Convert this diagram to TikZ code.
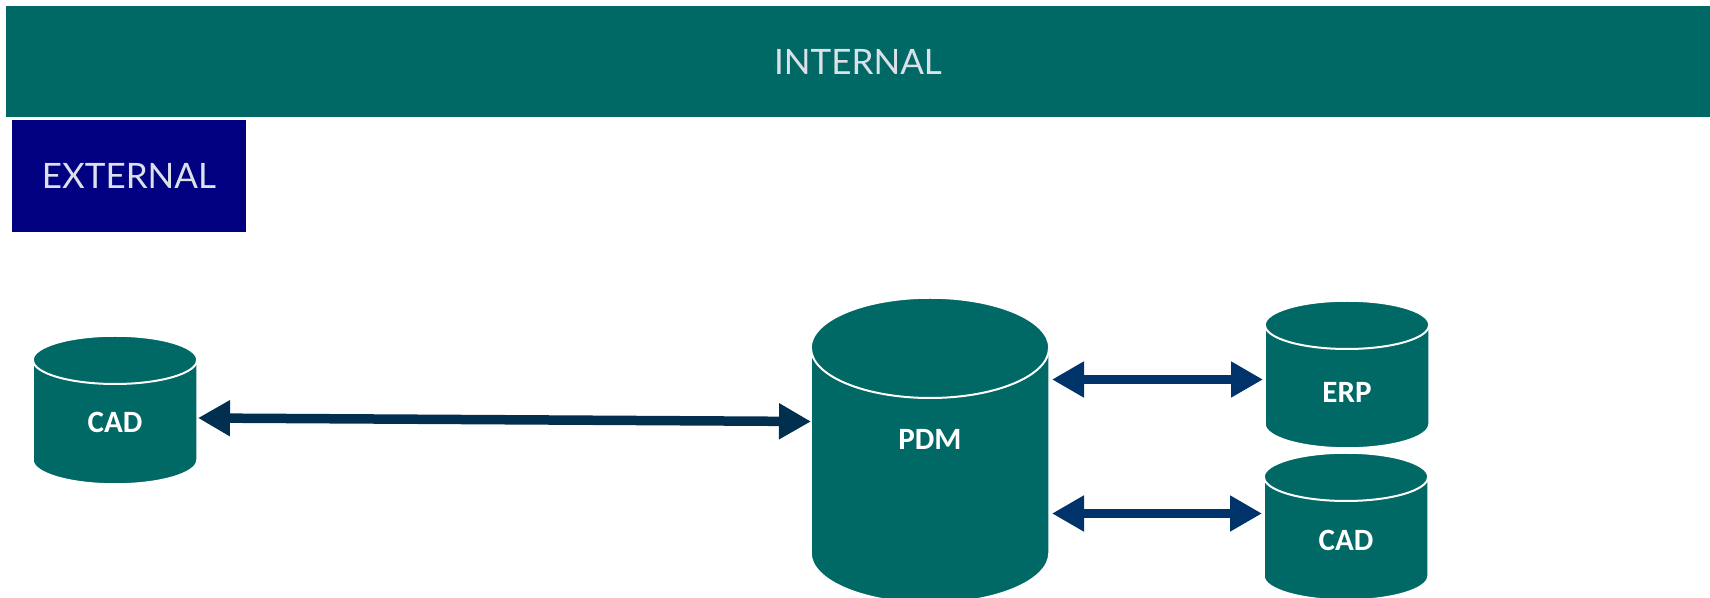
\documentclass[tikz,border=0pt]{standalone}
\usepackage{fontspec}
\newfontfamily\bandfont{Lato}
\newfontfamily\dbfont{Carlito}
\usetikzlibrary{calc}
\usetikzlibrary{arrows.meta}
\definecolor{teal}{RGB}{0,104,101}
\definecolor{navy}{RGB}{0,0,128}
\definecolor{pale}{RGB}{220,224,232}
\definecolor{linkdark}{RGB}{0,47,79}
\definecolor{linkblue}{RGB}{0,51,106}
\tikzset{x=0.5pt, y=0.5pt,
band/.style={ % Sets the properties for the two zone bars
fill, inner sep=0pt, text=pale,
font=\bandfont\fontsize{17.5}{20}\selectfont},
db/.style={fill=teal, draw=white, line width=0.75pt},
dbrim/.style={draw=white, line width=1pt},
dbbox/.style={inner sep=0pt, outer sep=0pt}, % body of a store, no ink
dblabel/.style={text=white, font=\dbfont\bfseries\fontsize{15.5}{18}\selectfont},
link/.style={ % Sets the properties for each two way link
draw, line width=4.75pt,
{Triangle[length=16pt, width=17pt]}-{Triangle[length=16pt, width=17pt]}}}
% #1 name, #2 x centre, #3 y top, #4 half width, #5 y bottom, #6 y radius, #7 label y, #8 label
\newcommand{\database}[8]{%
\path[db] (#2-#4,-#3) -- (#2-#4,-#5)
  arc[start angle=180, end angle=360, x radius=#4, y radius=#6]
  -- (#2+#4,-#3)
  arc[start angle=0, end angle=180, x radius=#4, y radius=#6] -- cycle;
\draw[dbrim] (#2-#4,-#3) arc[start angle=180, end angle=360, x radius=#4, y radius=#6];
\node[dbbox, minimum width=#4 pt, minimum height={(#5-#3)/2 pt}] (#1) at (#2,{-(#3+#5)/2}) {};
\node[dblabel] (#1 text) at (#2,-#7) {#8};}

\begin{document}
\begin{tikzpicture}
\useasboundingbox (0,0) rectangle (1710,-598);
\clip (0,0) rectangle (1710,-598);
\node[band, fill=teal, minimum width=852pt, minimum height=55.5pt] (internal) at (858,-61.5) {INTERNAL};
\node[band, fill=navy, minimum width=117pt, minimum height=56pt] (external) at (129,-176) {EXTERNAL};

\database{cadL}{115}{360}{82}{460}{24}{422}{CAD}
\database{pdm}{930}{348}{119}{553}{50}{439}{PDM}
\database{erp}{1347}{325}{82}{424}{24}{392}{ERP}
\database{cadR}{1346}{477}{82}{576}{24}{540}{CAD}

\draw[link, linkdark] ($(cadL.east)+(1,-8)$) -- ($(pdm.west)+(0,29)$);
\draw[link, linkblue] ($(pdm.east)+(3,71)$) -- ($(erp.west)+(-2,-5)$);
\draw[link, linkblue] ($(pdm.east)+(3,-63)$) -- ($(cadR.west)+(-2,13)$);
\end{tikzpicture}
\end{document}
